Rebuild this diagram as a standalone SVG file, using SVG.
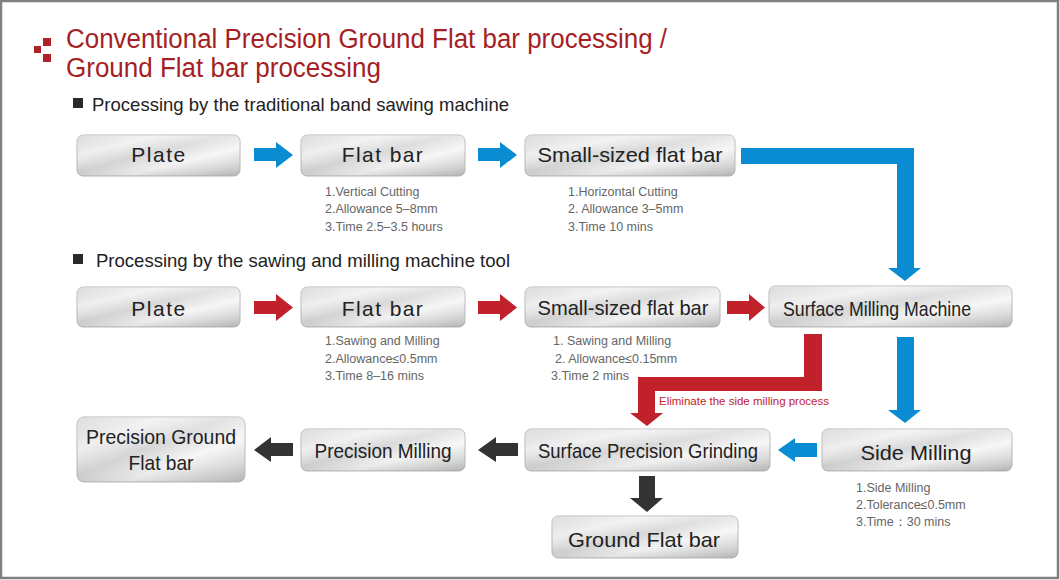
<svg xmlns="http://www.w3.org/2000/svg" width="1060" height="580" viewBox="0 0 1060 580">
<defs>
<linearGradient id="silver" x1="0" y1="0" x2="1" y2="1">
<stop offset="0" stop-color="#cdcdcd"/>
<stop offset="0.25" stop-color="#eeeeee"/>
<stop offset="0.45" stop-color="#d6d6d6"/>
<stop offset="0.65" stop-color="#f6f6f6"/>
<stop offset="0.85" stop-color="#dadada"/>
<stop offset="1" stop-color="#c2c2c2"/>
</linearGradient>
<linearGradient id="shade" x1="0" y1="0" x2="0" y2="1">
<stop offset="0" stop-color="#ffffff" stop-opacity="0.35"/>
<stop offset="0.5" stop-color="#ffffff" stop-opacity="0"/>
<stop offset="1" stop-color="#000000" stop-opacity="0.08"/>
</linearGradient>
</defs>
<style>
.box{fill:url(#silver);stroke:#b8b8b8;stroke-width:1}
.boxs{fill:url(#shade);stroke:none}
.lbl{font-family:"Liberation Sans",Arial,sans-serif;font-size:21px;fill:#222;text-anchor:middle}
.note{font-family:"Liberation Sans",Arial,sans-serif;font-size:12.5px;fill:#666}
.title{font-family:"Liberation Sans",Arial,sans-serif;font-size:27px;fill:#a51e24}
.sub{font-family:"Liberation Sans",Arial,sans-serif;font-size:18.5px;fill:#222}
.blue{fill:#0a8cd2}
.red{fill:#c1212b}
.blk{fill:#333333}
</style>
<rect x="0" y="0" width="1060" height="580" fill="#ffffff"/>
<rect x="1" y="1" width="1057" height="577" fill="none" stroke="#808080" stroke-width="2.5"/>

<g id="header">
<rect x="34" y="46" width="7" height="7" fill="#b0212a"/>
<rect x="43" y="38" width="8" height="8" fill="#b0212a"/>
<rect x="43" y="54" width="8" height="8" fill="#b0212a"/>
<text class="title" x="66" y="48" textLength="601" lengthAdjust="spacingAndGlyphs">Conventional Precision Ground Flat bar processing /</text>
<text class="title" x="66" y="77" textLength="315" lengthAdjust="spacingAndGlyphs">Ground Flat bar processing</text>
<rect x="73" y="98" width="10" height="10" fill="#2a2a2a"/>
<text class="sub" x="92" y="111" textLength="417" lengthAdjust="spacingAndGlyphs">Processing by the traditional band sawing machine</text>
<rect x="73" y="254" width="10" height="10" fill="#2a2a2a"/>
<text class="sub" x="96" y="267" textLength="414" lengthAdjust="spacingAndGlyphs">Processing by the sawing and milling machine tool</text>
</g>

<g id="connectors">
<polygon class="blue" points="254,148 276,148 276,142 293,155 276,168 276,161 254,161"/>
<polygon class="blue" points="478,148 500,148 500,142 517,155 500,168 500,161 478,161"/>
<polygon class="blue" points="741,148 914,148 914,268 921,268 905,281 888,268 897,268 897,164 741,164"/>
<polygon class="red" points="254,301 276,301 276,294 293,307.5 276,321 276,314 254,314"/>
<polygon class="red" points="478,301 500,301 500,294 517,307.5 500,321 500,314 478,314"/>
<polygon class="red" points="727,301 749,301 749,294 765,307.5 749,321 749,314 727,314"/>
<polygon class="red" points="804,334 822,334 822,391 655,391 655,413 663,413 647,426 630,413 638,413 638,377 804,377"/>
<text x="659" y="405" font-family="Liberation Sans,Arial,sans-serif" font-size="11.5" fill="#c1212b" textLength="170" lengthAdjust="spacingAndGlyphs">Eliminate the side milling process</text>
<polygon class="blue" points="897,337 914,337 914,410 921,410 905,423 888,410 897,410"/>
<polygon class="blue" points="778,450 795,438 795,443 817,443 817,457 795,457 795,462"/>
<polygon class="blk" points="518,443 496,443 496,437 478,450 496,462 496,456 518,456"/>
<polygon class="blk" points="293,443 271,443 271,437 254,450 271,462 271,456 293,456"/>
<polygon class="blk" points="639,476 655,476 655,498 663,498 647,512 630,498 639,498"/>
</g>

<g id="plate1">
<rect class="box" x="77" y="135" width="163" height="41" rx="6"/>
<rect class="boxs" x="77" y="135" width="163" height="41" rx="6"/>
<text class="lbl" x="159" y="162" font-size="20" letter-spacing="1.5">Plate</text>
</g>
<g id="flatbar1">
<rect class="box" x="301" y="135" width="164" height="41" rx="6"/>
<rect class="boxs" x="301" y="135" width="164" height="41" rx="6"/>
<text class="lbl" x="383" y="162" font-size="20" letter-spacing="1.4">Flat bar</text>
<text class="note" x="325" y="196">1.Vertical Cutting</text>
<text class="note" x="325" y="213">2.Allowance 5–8mm</text>
<text class="note" x="325" y="231">3.Time 2.5–3.5 hours</text>
</g>
<g id="small1">
<rect class="box" x="525" y="135" width="210" height="41" rx="6"/>
<rect class="boxs" x="525" y="135" width="210" height="41" rx="6"/>
<text class="lbl" x="630" y="162" font-size="21" textLength="185" lengthAdjust="spacingAndGlyphs">Small-sized flat bar</text>
<text class="note" x="568" y="196">1.Horizontal Cutting</text>
<text class="note" x="568" y="213">2. Allowance 3–5mm</text>
<text class="note" x="568" y="231">3.Time 10 mins</text>
</g>

<g id="plate2">
<rect class="box" x="77" y="287" width="163" height="40" rx="6"/>
<rect class="boxs" x="77" y="287" width="163" height="40" rx="6"/>
<text class="lbl" x="159" y="316" font-size="20" letter-spacing="1.5">Plate</text>
</g>
<g id="flatbar2">
<rect class="box" x="301" y="287" width="164" height="40" rx="6"/>
<rect class="boxs" x="301" y="287" width="164" height="40" rx="6"/>
<text class="lbl" x="383" y="316" font-size="20" letter-spacing="1.4">Flat bar</text>
<text class="note" x="325" y="345">1.Sawing and Milling</text>
<text class="note" x="325" y="363">2.Allowance≤0.5mm</text>
<text class="note" x="325" y="380">3.Time 8–16 mins</text>
</g>
<g id="small2">
<rect class="box" x="525" y="287" width="195" height="40" rx="6"/>
<rect class="boxs" x="525" y="287" width="195" height="40" rx="6"/>
<text class="lbl" x="623" y="315" font-size="21" textLength="171" lengthAdjust="spacingAndGlyphs">Small-sized flat bar</text>
<text class="note" x="553" y="345">1. Sawing and Milling</text>
<text class="note" x="555" y="363">2. Allowance≤0.15mm</text>
<text class="note" x="551" y="380">3.Time 2 mins</text>
</g>
<g id="surfacemilling">
<rect class="box" x="769" y="286" width="243" height="41" rx="6"/>
<rect class="boxs" x="769" y="286" width="243" height="41" rx="6"/>
<text class="lbl" x="877" y="316" font-size="20" textLength="188" lengthAdjust="spacingAndGlyphs">Surface Milling Machine</text>
</g>

<g id="pgflatbar">
<rect class="box" x="77" y="417" width="168" height="65" rx="7"/>
<rect class="boxs" x="77" y="417" width="168" height="65" rx="7"/>
<text class="lbl" x="161" y="444" textLength="150" lengthAdjust="spacingAndGlyphs">Precision Ground</text>
<text class="lbl" x="161" y="470" textLength="65" lengthAdjust="spacingAndGlyphs">Flat bar</text>
</g>
<g id="precisionmilling">
<rect class="box" x="301" y="429" width="164" height="42" rx="6"/>
<rect class="boxs" x="301" y="429" width="164" height="42" rx="6"/>
<text class="lbl" x="383" y="458" textLength="137" lengthAdjust="spacingAndGlyphs">Precision Milling</text>
</g>
<g id="surfacegrinding">
<rect class="box" x="525" y="429" width="245" height="42" rx="6"/>
<rect class="boxs" x="525" y="429" width="245" height="42" rx="6"/>
<text class="lbl" x="648" y="458" textLength="220" lengthAdjust="spacingAndGlyphs">Surface Precision Grinding</text>
</g>
<g id="sidemilling">
<rect class="box" x="822" y="429" width="190" height="42" rx="6"/>
<rect class="boxs" x="822" y="429" width="190" height="42" rx="6"/>
<text class="lbl" x="916" y="460" font-size="22" textLength="111" lengthAdjust="spacingAndGlyphs">Side Milling</text>
<text class="note" x="856" y="492">1.Side Milling</text>
<text class="note" x="856" y="509">2.Tolerance≤0.5mm</text>
<text class="note" x="856" y="526">3.Time：30 mins</text>
</g>
<g id="groundflatbar">
<rect class="box" x="552" y="516" width="186" height="42" rx="6"/>
<rect class="boxs" x="552" y="516" width="186" height="42" rx="6"/>
<text class="lbl" x="644" y="547" font-size="21" textLength="152" lengthAdjust="spacingAndGlyphs">Ground Flat bar</text>
</g>
</svg>
